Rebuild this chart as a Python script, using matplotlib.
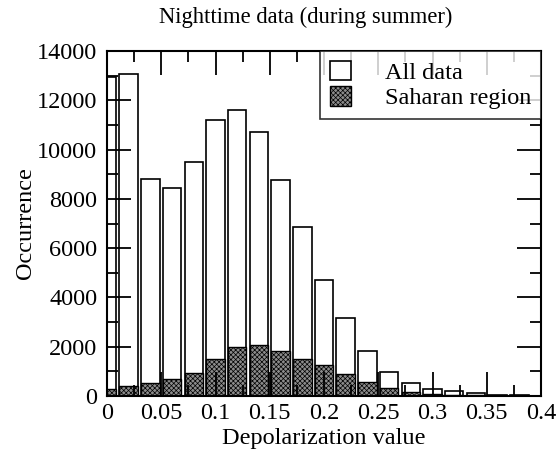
import matplotlib
matplotlib.use('Agg')
import matplotlib.pyplot as plt
import numpy as np
from matplotlib.ticker import MultipleLocator

plt.rcParams['font.family'] = ['Liberation Serif', 'DejaVu Serif']
plt.rcParams['hatch.linewidth'] = 0.5

# bin centres (depolarization value)
depol = [0.00, 0.02, 0.04, 0.06, 0.08, 0.10, 0.12, 0.14, 0.16, 0.18,
         0.20, 0.22, 0.24, 0.26, 0.28, 0.30, 0.32, 0.34, 0.36, 0.38]
all_data = [12950, 13050, 8800, 8450, 9500, 11200, 11600, 10700, 8750, 6850,
            4700, 3150, 1840, 990, 515, 285, 190, 110, 60, 30]
saharan = [300, 400, 515, 690, 950, 1500, 2000, 2060, 1810, 1510,
           1245, 905, 570, 340, 180, 100, 50, 30, 20, 10]

fig = plt.figure(figsize=(5.56, 4.53), dpi=100)
ax = fig.add_axes([107/556, 1-396/453, 434/556, 345/453])

w = 0.017
ax.bar(depol, all_data, width=w, color='white', edgecolor='black', lw=1.2,
       label='All data', zorder=1)
ax.bar(depol, saharan, width=w, color='#8c8c8c', edgecolor='black', lw=1.0,
       hatch='xxxxxxx', label='Saharan region', zorder=2)

ax.set_xlim(0, 0.4)
ax.set_ylim(0, 14000)
ax.xaxis.set_minor_locator(MultipleLocator(0.025))
ax.yaxis.set_major_locator(MultipleLocator(2000))
ax.yaxis.set_minor_locator(MultipleLocator(1000))
ax.set_xticks(np.arange(0, 0.401, 0.05))
ax.set_xticklabels(['0', '0.05', '0.1', '0.15', '0.2', '0.25', '0.3', '0.35', '0.4'])
ax.tick_params(which='both', direction='in', top=True, right=True,
               labelsize=17.5, width=1.3)
ax.tick_params(axis='x', pad=5)
ax.tick_params(axis='y', pad=7)
ax.tick_params(which='major', length=17)
ax.tick_params(which='minor', length=8)
for sp in ax.spines.values():
    sp.set_linewidth(1.5)
    sp.set_zorder(5)
ax.set_axisbelow(False)

ax.set_xlabel('Depolarization value', fontsize=17.5, labelpad=3)
ax.set_ylabel('Occurrence', fontsize=17.5, labelpad=1)
fig.text(0.549, 1-17/453, 'Nighttime data (during summer)', fontsize=16.3,
         ha='center', va='center')

leg = ax.legend(loc='upper right', fontsize=17.5, frameon=True, fancybox=False,
                edgecolor='black', borderaxespad=0.0, handlelength=0.85,
                handleheight=0.85, handletextpad=1.4, borderpad=0.4,
                labelspacing=0.1)
leg.get_frame().set_linewidth(1.2)

fig.savefig('out.png', dpi=100)
